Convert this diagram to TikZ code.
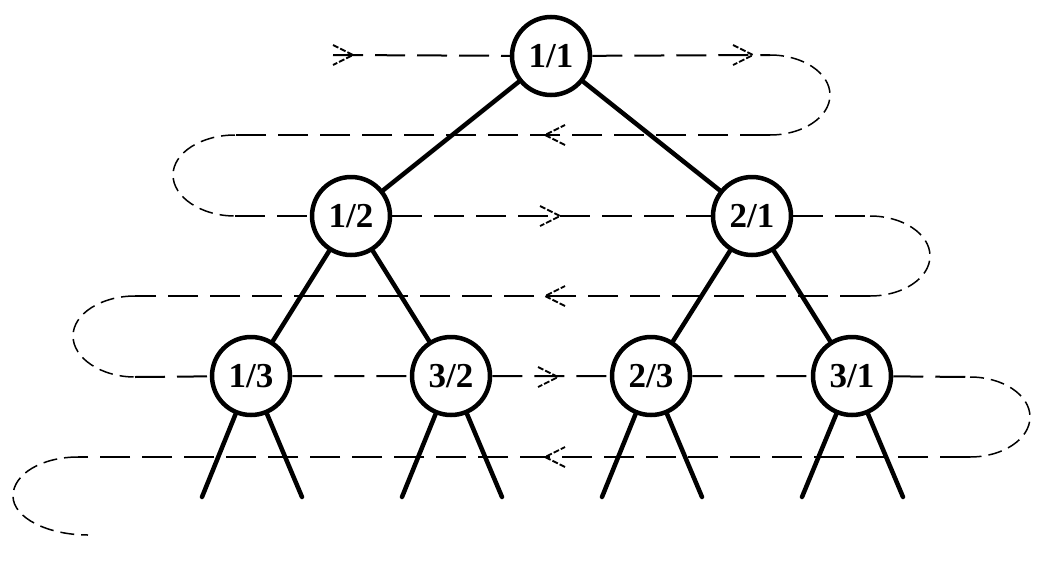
\documentclass[tikz,border=0pt]{standalone}
\usepackage{fontspec}
\setmainfont{Liberation Serif}
\usepackage{tikz}

\tikzset{
  frac/.style={circle, draw, line width=4.5pt, fill=white, minimum size=78pt, inner sep=0pt,
    font=\bfseries\fontsize{35}{35}\selectfont},
  edge/.style={line width=4.5pt, line cap=round},
  trail/.style={line width=2pt, dash pattern=on 30pt off 12pt},
  turnloop/.style={line width=1.5pt, dash pattern=on 14pt off 7pt},
  tipmark/.style={line width=1.8pt, dash pattern=on 6pt off 2pt}
}

\begin{document}
\begin{tikzpicture}[x=1pt,y=1pt,yscale=-1,xscale=1]
\useasboundingbox (0,0) rectangle (1042,560);
% Nodes
\node[frac] (n11) at (551,56) {1/1};
\node[frac] (n12) at (351,216) {1/2};
\node[frac] (n21) at (752,216) {2/1};
\node[frac] (n13) at (251,376) {1/3};
\node[frac] (n32) at (451,376) {3/2};
\node[frac] (n23) at (651,376) {2/3};
\node[frac] (n31) at (852,376) {3/1};
% leaf ends
\coordinate (lf1) at (202,497);
\coordinate (lf2) at (302,497);
\coordinate (lf3) at (402,497);
\coordinate (lf4) at (502,497);
\coordinate (lf5) at (602,497);
\coordinate (lf6) at (702,497);
\coordinate (lf7) at (802,497);
\coordinate (lf8) at (903,497);
% turning points of the traversal
\coordinate (s0) at (333,55);
\coordinate (a0) at (770,55);
\coordinate (r0) at (830,95);
\coordinate (b0) at (770,135);
\coordinate (c1) at (235,135);
\coordinate (l1) at (173,175);
\coordinate (d1) at (235,216);
\coordinate (a2) at (870,216);
\coordinate (r2) at (930,256);
\coordinate (b2) at (870,296);
\coordinate (c3) at (135,296);
\coordinate (l3) at (73,336);
\coordinate (d3) at (135,377);
\coordinate (a4) at (970,377);
\coordinate (r4) at (1030,417);
\coordinate (b4) at (970,457);
\coordinate (c5) at (78,457);
\coordinate (l5) at (13,496);
\coordinate (e5) at (88,535);
%Straight Lines (traversal rows)
\draw[trail] (s0) -- (n11) -- (a0);
\draw[trail] (b0) -- (c1);
\draw[trail] (d1) -- (n12) -- (n21) -- (a2);
\draw[trail] (b2) -- (c3);
\draw[trail] (d3) -- (n13) -- (n32) -- (n23) -- (n31) -- (a4);
\draw[trail] (b4) -- (c5);
%Curves (traversal turns)
\draw[turnloop] (a0) .. controls +(33,0) and +(0,-22) .. (r0) .. controls +(0,22) and +(33,0) .. (b0);
\draw[turnloop] (c1) .. controls +(-34,0) and +(0,-22) .. (l1) .. controls +(0,22) and +(-34,0) .. (d1);
\draw[turnloop] (a2) .. controls +(33,0) and +(0,-22) .. (r2) .. controls +(0,22) and +(33,0) .. (b2);
\draw[turnloop] (c3) .. controls +(-34,0) and +(0,-22) .. (l3) .. controls +(0,22) and +(-34,0) .. (d3);
\draw[turnloop] (a4) .. controls +(33,0) and +(0,-22) .. (r4) .. controls +(0,22) and +(33,0) .. (b4);
\draw[turnloop] (c5) .. controls +(-36,0) and +(0,-22) .. (l5) .. controls +(0,22) and +(-40,0) .. (e5);
% direction marks
\foreach \x/\y/\r in {353/55/0, 753/55/0, 545/135/180, 560/216/0, 545/296/180, 558/377/0, 545/457/180}
  \draw[tipmark, shift={(\x,\y)}, rotate=\r] (-20,-10) -- (0,0) -- (-20,10);
%Straight Lines (tree)
\draw[edge] (n11) -- (n12);
\draw[edge] (n11) -- (n21);
\draw[edge] (n12) -- (n13);
\draw[edge] (n12) -- (n32);
\draw[edge] (n21) -- (n23);
\draw[edge] (n21) -- (n31);
\draw[edge] (n13) -- (lf1);
\draw[edge] (n13) -- (lf2);
\draw[edge] (n32) -- (lf3);
\draw[edge] (n32) -- (lf4);
\draw[edge] (n23) -- (lf5);
\draw[edge] (n23) -- (lf6);
\draw[edge] (n31) -- (lf7);
\draw[edge] (n31) -- (lf8);
\end{tikzpicture}
\end{document}
